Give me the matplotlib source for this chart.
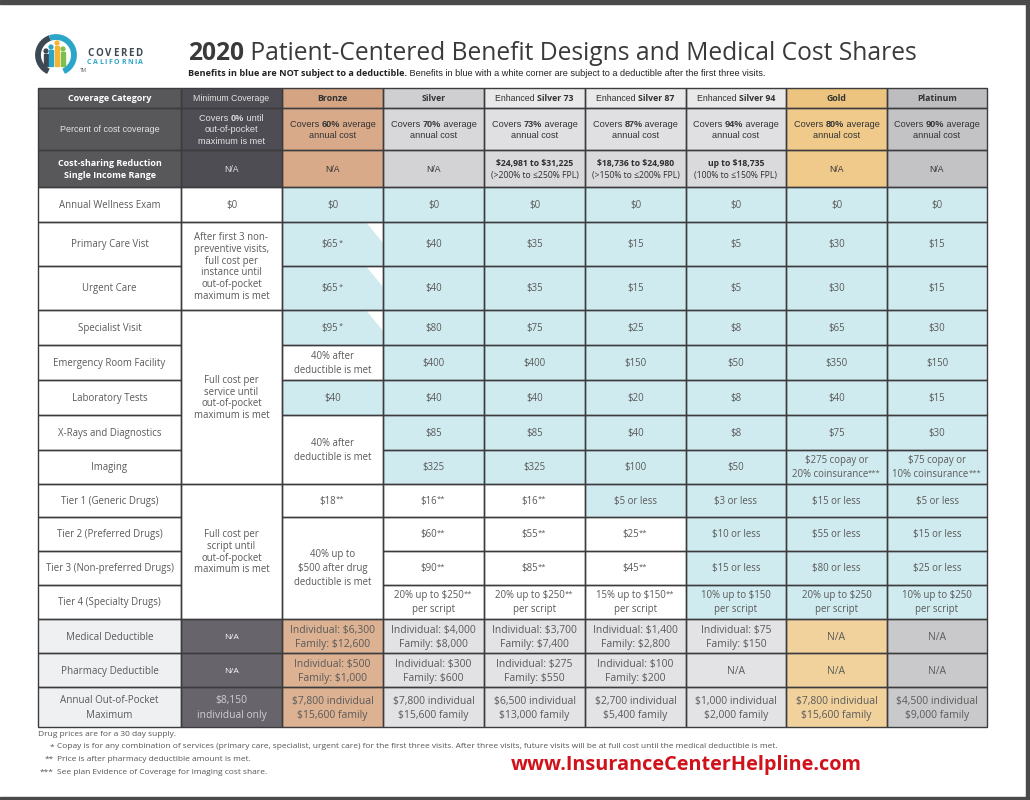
import matplotlib.pyplot as plt
from matplotlib.patches import Rectangle, Polygon, Arc, Circle

plt.rcParams['font.family'] = ['Open Sans', 'DejaVu Sans']

# ---------------- data ----------------
plan_headers = ["Minimum Coverage", "|Bronze|", "|Silver|", "Enhanced |Silver 73|",
                "Enhanced |Silver 87|", "Enhanced |Silver 94|", "|Gold|", "|Platinum|"]
coverage_pct = [0, 60, 70, 73, 87, 94, 80, 90]
csr_range = ["N/A", "N/A", "N/A",
             "|$24,981 to $31,225|\n(>200% to ≤250% FPL)",
             "|$18,736 to $24,980|\n(>150% to ≤200% FPL)",
             "|up to $18,735|\n(100% to ≤150% FPL)",
             "N/A", "N/A"]

benefit_rows = ["Annual Wellness Exam", "Primary Care Vist", "Urgent Care", "Specialist Visit",
                "Emergency Room Facility", "Laboratory Tests", "X-Rays and Diagnostics", "Imaging",
                "Tier 1 (Generic Drugs)", "Tier 2 (Preferred Drugs)", "Tier 3 (Non-preferred Drugs)",
                "Tier 4 (Specialty Drugs)"]

# "^" = merged with the cell above
min_cov = ["$0",
           "After first 3 non-\npreventive visits,\nfull cost per\ninstance until\nout-of-pocket\nmaximum is met",
           "^",
           "Full cost per\nservice until\nout-of-pocket\nmaximum is met", "^", "^", "^", "^",
           "Full cost per\nscript until\nout-of-pocket\nmaximum is met", "^", "^", "^"]
bronze = ["$0", "$65*", "$65*", "$95*", "40% after\ndeductible is met", "$40",
          "40% after\ndeductible is met", "^", "$18**",
          "40% up to\n$500 after drug\ndeductible is met", "^", "^"]
silver = ["$0", "$40", "$40", "$80", "$400", "$40", "$85", "$325", "$16**", "$60**", "$90**",
          "20% up to $250**\nper script"]
silver73 = ["$0", "$35", "$35", "$75", "$400", "$40", "$85", "$325", "$16**", "$55**", "$85**",
            "20% up to $250**\nper script"]
silver87 = ["$0", "$15", "$15", "$25", "$150", "$20", "$40", "$100", "$5 or less", "$25**", "$45**",
            "15% up to $150**\nper script"]
silver94 = ["$0", "$5", "$5", "$8", "$50", "$8", "$8", "$50", "$3 or less", "$10 or less",
            "$15 or less", "10% up to $150\nper script"]
gold = ["$0", "$30", "$30", "$65", "$350", "$40", "$75", "$275 copay or\n20% coinsurance***",
        "$15 or less", "$55 or less", "$80 or less", "20% up to $250\nper script"]
platinum = ["$0", "$15", "$15", "$30", "$150", "$15", "$30", "$75 copay or\n10% coinsurance***",
            "$5 or less", "$15 or less", "$25 or less", "10% up to $250\nper script"]
benefit_values = [min_cov, bronze, silver, silver73, silver87, silver94, gold, platinum]

# b = blue (no deductible), c = blue with white corner, w = white
benefit_fill = ["wwwwwwwwwwww", "bcccwbwwwwww", "bbbbbbbbwwww", "bbbbbbbbwwww",
                "bbbbbbbbbwww", "bbbbbbbbbbbb", "bbbbbbbbbbbb", "bbbbbbbbbbbb"]

bottom_rows = ["Medical Deductible", "Pharmacy Deductible", "Annual Out-of-Pocket\nMaximum"]
medical_deductible = ["N/A", "Individual: $6,300\nFamily: $12,600", "Individual: $4,000\nFamily: $8,000",
                      "Individual: $3,700\nFamily: $7,400", "Individual: $1,400\nFamily: $2,800",
                      "Individual: $75\nFamily: $150", "N/A", "N/A"]
pharmacy_deductible = ["N/A", "Individual: $500\nFamily: $1,000", "Individual: $300\nFamily: $600",
                       "Individual: $275\nFamily: $550", "Individual: $100\nFamily: $200",
                       "N/A", "N/A", "N/A"]
oop_max = ["$8,150\nindividual only", "$7,800 individual\n$15,600 family",
           "$7,800 individual\n$15,600 family", "$6,500 individual\n$13,000 family",
           "$2,700 individual\n$5,400 family", "$1,000 individual\n$2,000 family",
           "$7,800 individual\n$15,600 family", "$4,500 individual\n$9,000 family"]
bottom_values = [medical_deductible, pharmacy_deductible, oop_max]

footnotes = [("", "Drug prices are for a 30 day supply."),
             ("*", "Copay is for any combination of services (primary care, specialist, urgent care) for the first three visits. After three visits, future visits will be at full cost until the medical deductible is met."),
             ("**", "Price is after pharmacy deductible amount is met."),
             ("***", "See plan Evidence of Coverage for imaging cost share.")]

# ---------------- layout / style ----------------
col_x = [38, 181, 282, 383, 484, 585, 686, 786, 887, 987]
head_y = [88, 108, 150, 187]
body_y = [187, 222, 266, 310, 345, 380, 415, 450, 484, 517, 551, 585, 619]
foot_y = [619, 653, 687, 727]

EDGE = '#3c3c3e'
TXT = '#5a5a5a'
BLUE = '#d0ebef'
head_colors = [  # row1, row2, row3, bottom rows
    ('#4f4d54', '#4f4d54', '#4f4d54', '#68646c'),
    ('#d5a583', '#d8aa8a', '#d8aa8a', '#dcb293'),
    ('#cfcfd1', '#d8d8da', '#d3d3d5', '#e2e2e4'),
    ('#e9e9ea', '#e0e0e2', '#dadadc', '#e3e3e5'),
    ('#e9e9ea', '#e0e0e2', '#dadadc', '#e3e3e5'),
    ('#e9e9ea', '#e0e0e2', '#dadadc', '#e3e3e5'),
    ('#ecc47f', '#efca8b', '#efca8b', '#f1d29c'),
    ('#bdbdc0', '#c3c3c5', '#c3c3c5', '#c9c9cb'),
]
LABEL_DARK = '#58585b'
LABEL_LIGHT = '#eef0f2'

fig = plt.figure(figsize=(10.3, 8), dpi=100)
ax = fig.add_axes([0, 0, 1, 1])
ax.set_xlim(0, 1030)
ax.set_ylim(800, 0)
ax.axis('off')
renderer = fig.canvas.get_renderer()
PX = 100 / 72


def parse(line):
    # '|' toggles bold, trailing asterisks become superscript
    sup = ''
    while line.endswith('*'):
        sup += '*'
        line = line[:-1]
    parts = []
    bold = False
    for i, seg in enumerate(line.split('|')):
        if seg:
            parts.append((seg, bold, False))
        bold = not bold
    if sup:
        parts.append((sup, False, True))
    return parts


def draw_line(x, cy, line, size, color, bold=False, ha='center', fam=None, famb=None):
    base = cy + 0.36 * size * PX
    arts, widths = [], []
    for s, b, sup in parse(line):
        fs = size * 0.8 if sup else size
        isb = b or bold
        f = (famb if isb else fam) or plt.rcParams['font.family']
        t = ax.text(0, base, s, fontsize=fs, fontweight='bold' if isb else 'normal',
                    family=f, color=color, ha='left', va='baseline', parse_math=False, zorder=5)
        w = t.get_window_extent(renderer).width
        if sup:
            t.set_y(base - 0.3 * size * PX)
            w += 1
        arts.append(t)
        widths.append(w)
    x0 = x - sum(widths) / 2 if ha == 'center' else x
    for t, w in zip(arts, widths):
        t.set_x(x0)
        x0 += w


def cell(x0, x1, y0, y1, face, text='', size=6.9, color=TXT, lh=14, bold=False,
         corner=False, fam=None, famb=None):
    ax.add_patch(Rectangle((x0, y0), x1 - x0, y1 - y0, facecolor=face, edgecolor='none', zorder=1))
    if corner:
        ax.add_patch(Polygon([(x1 - 17, y0), (x1, y0), (x1, y0 + 21)], closed=True,
                             facecolor='white', edgecolor='none', zorder=2))
    ax.add_patch(Rectangle((x0, y0), x1 - x0, y1 - y0, facecolor='none', edgecolor=EDGE,
                           lw=1.0, zorder=3))
    lines = text.split('\n') if text else []
    n = len(lines)
    for i, ln in enumerate(lines):
        draw_line((x0 + x1) / 2, (y0 + y1) / 2 + (i - (n - 1) / 2) * lh, ln, size, color,
                  bold=bold, fam=fam, famb=famb)


def tracked(x, y, word, size, color, track):
    for ch in word:
        t = ax.text(x, y, ch, fontsize=size, fontweight='bold', color=color, ha='left', va='center')
        x += t.get_window_extent(renderer).width + track


ARIAL = ['Liberation Sans', 'DejaVu Sans']

# ---- header rows ----
lab = col_x[0], col_x[1]
cell(*lab, head_y[0], head_y[1], LABEL_DARK, "Coverage Category", size=6.5, color='white', bold=True)
cell(*lab, head_y[1], head_y[2], LABEL_DARK, "Percent of cost coverage", size=6.5, color='#e4e4e4',
     fam=ARIAL)
cell(*lab, head_y[2], head_y[3], LABEL_DARK, "Cost-sharing Reduction\nSingle Income Range", size=6.5,
     color='white', bold=True, lh=12)

for j in range(8):
    xa, xb = col_x[j + 1], col_x[j + 2]
    c1, c2, c3, _ = head_colors[j]
    dark = j == 0
    tcol = '#e2e2e2' if dark else '#333333'
    cell(xa, xb, head_y[0], head_y[1], c1, plan_headers[j], size=6.3, color=tcol, fam=ARIAL)
    if j == 0:
        cov = "Covers |%d%%| until\nout-of-pocket\nmaximum is met" % coverage_pct[j]
    else:
        cov = "Covers |%d%%| average\nannual cost" % coverage_pct[j]
    cell(xa, xb, head_y[1], head_y[2], c2, cov, size=6.6, color=tcol, lh=11.5, fam=ARIAL, famb=ARIAL)
    cell(xa, xb, head_y[2], head_y[3], c3, csr_range[j], size=6.2,
         color=tcol if csr_range[j] == "N/A" else '#2e2e2e', lh=12,
         fam=ARIAL if csr_range[j] == "N/A" else None)

# ---- benefit rows ----
for i, name in enumerate(benefit_rows):
    cell(*lab, body_y[i], body_y[i + 1], 'white', name)

for j, vals in enumerate(benefit_values):
    xa, xb = col_x[j + 1], col_x[j + 2]
    i = 0
    while i < len(vals):
        k = i + 1
        while k < len(vals) and vals[k] == "^":
            k += 1
        code = benefit_fill[j][i]
        face = 'white' if code == 'w' else BLUE
        lh = 11.7 if j == 0 else 14
        cell(xa, xb, body_y[i], body_y[k], face, vals[i], lh=lh, corner=(code == 'c'))
        i = k

# ---- deductible / out-of-pocket rows ----
for r, name in enumerate(bottom_rows):
    ya, yb = foot_y[r], foot_y[r + 1]
    cell(*lab, ya, yb, LABEL_LIGHT, name, size=7.1, lh=14.5)
    for j in range(8):
        face = head_colors[j][3]
        if j == 0:
            tcol = 'white' if r < 2 else '#cfcfd3'
            cell(col_x[1], col_x[2], ya, yb, face, bottom_values[r][j],
                 size=6.0 if r < 2 else 7.4, color=tcol, lh=14.5)
        else:
            cell(col_x[j + 1], col_x[j + 2], ya, yb, face, bottom_values[r][j], size=7.5, lh=14)

# ---- title, logo, notes ----
draw_line(188, 51, "|2020| Patient-Centered Benefit Designs and Medical Cost Shares", 17.7, '#3a3a3a',
          ha='left')
draw_line(188, 73, "|Benefits in blue are NOT subject to a deductible.| Benefits in blue with a white "
          "corner are subject to a deductible after the first three visits.", 6.6, '#222222',
          ha='left', fam=ARIAL)

ax.add_patch(Arc((56, 55), 36, 36, theta1=115, theta2=250, lw=4.2, color='#3d4852', zorder=2))
ax.add_patch(Arc((56, 55), 36, 36, theta1=250, theta2=425, lw=4.2, color='#2ca6c8', zorder=2))
people = [(46, 51, '#3d4852'), (51, 47, '#2ca6c8'), (57, 43, '#f5b431'), (63, 49, '#7cc04b')]
for px, top, pc in people:
    ax.add_patch(Circle((px, top), 1.9, color=pc, zorder=3))
    ax.add_patch(Rectangle((px - 1.7, top + 3), 3.4, 66 - top - 3, color=pc, zorder=3))
tracked(87, 53, "COVERED", 7.0, '#3f4a53', 1.8)
tracked(87, 62.5, "CALIFORNIA", 5.0, '#2ca6c8', 1.5)
ax.text(80, 71, "TM", fontsize=3.5, color='#555555', va='center')

for k, (mark, note) in enumerate(footnotes):
    fy = 734 + k * 12.8
    if mark:
        ax.text(54, fy, mark, fontsize=6.0, color='#555555', ha='right', va='center')
        ax.text(57, fy, note, fontsize=6.0, color='#555555', ha='left', va='center')
    else:
        ax.text(38, fy, note, fontsize=6.0, color='#555555', ha='left', va='center')

ax.text(686, 765, "www.InsuranceCenterHelpline.com", fontsize=14.3, fontweight='bold',
        color='#d0121b', ha='center', va='center')

# page frame
ax.add_patch(Rectangle((0, 0), 1030, 4, color='#4a4a4a', zorder=6))
ax.add_patch(Rectangle((1026, 0), 4, 800, color='#4a4a4a', zorder=6))
ax.add_patch(Rectangle((0, 797), 1030, 3, color='#4a4a4a', zorder=6))

fig.savefig('out.png', dpi=100)
